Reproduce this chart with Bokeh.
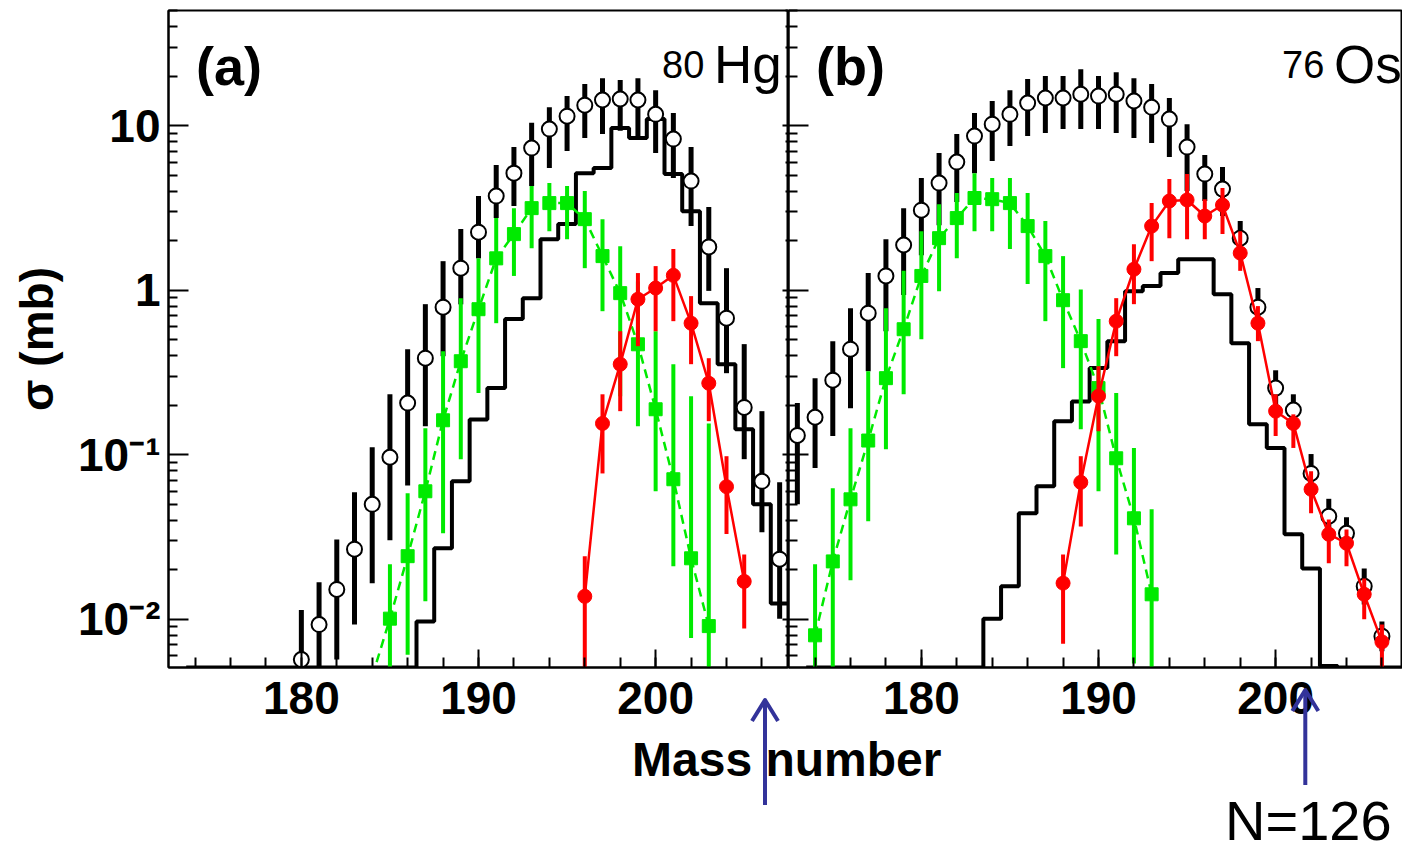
from bokeh.plotting import figure
from bokeh.layouts import row, column
from bokeh.models import (Range1d, FixedTicker, SingleIntervalTicker, LogAxis,
                          Label, Div, CustomJSTickFormatter)
from bokeh.embed import file_html
from bokeh.resources import INLINE

# ---------------- data ----------------
# Panel (a): 80Hg
A_open_a = list(range(180, 208))
open_a = [0.0057, 0.0093, 0.0152, 0.0267, 0.050, 0.0966, 0.206, 0.386, 0.788, 1.36,
          2.25, 3.73, 5.14, 7.30, 9.52, 11.4, 13.3, 14.3, 14.5, 14.3,
          11.7, 8.28, 4.60, 1.83, 0.676, 0.194, 0.069, 0.0232]
open_a_hi = [0.0114, 0.0168, 0.0306, 0.0592, 0.111, 0.233, 0.438, 0.822, 1.50, 2.35,
             3.73, 5.75, 7.40, 10.4, 12.9, 15.1, 17.9, 19.4, 18.9, 19.4,
             16.4, 11.9, 7.4, 3.20, 1.36, 0.47, 0.184, 0.068]
open_a_lo = [0, 0, 0.0057, 0.0093, 0.0166, 0.0302, 0.065, 0.149, 0.397, 0.82,
             1.56, 2.74, 3.24, 4.29, 5.52, 7.0, 8.4, 8.9, 9.3, 8.6,
             6.8, 4.8, 2.45, 0.99, 0.313, 0.094, 0.0338, 0.0101]

A_hist_a = list(range(174, 208))
hist_a = [0] * 13 + [0.0097, 0.027, 0.069, 0.164, 0.254, 0.667, 0.894, 2.04, 2.52, 5.14,
                     5.52, 9.66, 8.4, 10.95, 5.07, 3.02, 0.834, 0.355, 0.143, 0.050, 0.0125]

A_green_a = list(range(184, 204))
green_a = [0.0045, 0.0101, 0.0242, 0.060, 0.162, 0.370, 0.766, 1.56, 2.19, 3.15,
           3.38, 3.38, 2.70, 1.61, 0.959, 0.469, 0.189, 0.071, 0.0235, 0.0091]
green_a_hi = [0.0045, 0.0216, 0.0583, 0.145, 0.426, 0.894, 1.56, 2.74, 3.15, 4.29,
              4.47, 4.29, 4.0, 2.70, 1.85, 1.13, 0.563, 0.355, 0.227, 0.155]
green_a_lo = [0, 0, 0.0061, 0.0129, 0.0333, 0.094, 0.237, 0.63, 1.22, 1.80,
              2.28, 2.04, 1.36, 0.745, 0.227, 0.149, 0.060, 0.021, 0.0077, 0]

A_red_a = list(range(196, 206))
red_a = [0.0138, 0.155, 0.355, 0.881, 1.03, 1.23, 0.63, 0.272, 0.064, 0.017]
red_a_hi = [0.0242, 0.233, 0.563, 1.27, 1.40, 1.78, 0.92, 0.386, 0.098, 0.0248]
red_a_lo = [0, 0.077, 0.184, 0.457, 0.563, 0.648, 0.355, 0.16, 0.033, 0.0088]

# Panel (b): 76Os
A_open_b = list(range(173, 207))
open_b = [0.131, 0.169, 0.284, 0.438, 0.725, 1.22, 1.88, 3.06, 4.47, 6.0,
          8.63, 10.2, 11.7, 13.7, 14.7, 14.7, 15.5, 15.1, 15.5, 14.1,
          12.9, 10.95, 7.40, 5.07, 4.11, 2.07, 0.788, 0.254, 0.187, 0.077,
          0.0423, 0.0333, 0.0159, 0.0079]
open_b_hi = [0.206, 0.292, 0.490, 0.777, 1.27, 2.04, 3.15, 4.80, 6.80, 8.88,
             11.9, 14.1, 16.4, 19.2, 20.0, 20.0, 22.0, 20.0, 21.1, 19.4,
             17.9, 14.7, 10.2, 6.62, 5.6, 2.63, 1.03, 0.326, 0.233, 0.101,
             0.054, 0.0417, 0.0204, 0.0097]
open_b_lo = [0.050, 0.083, 0.130, 0.192, 0.322, 0.563, 0.933, 1.63, 2.48, 3.43,
             5.14, 6.08, 7.5, 8.63, 9.0, 9.52, 9.52, 9.52, 9.0, 8.4,
             7.83, 6.44, 4.0, 3.48, 2.82, 1.54, 0.588, 0.197, 0.149, 0.059,
             0.0329, 0.0267, 0.0123, 0.0064]

A_hist_b = list(range(174, 208))
hist_b = [0] * 10 + [0.0101, 0.0159, 0.0441, 0.0644, 0.160, 0.211, 0.336, 0.490, 0.986, 1.06,
                     1.27, 1.54, 1.54, 0.946, 0.476, 0.153, 0.110, 0.0329, 0.0204, 0.0052] + [0] * 4

A_green_b = list(range(174, 194))
green_b = [0.0080, 0.0225, 0.0536, 0.122, 0.292, 0.579, 1.22, 2.07, 2.74, 3.63,
           3.57, 3.38, 2.45, 1.61, 0.869, 0.490, 0.254, 0.0952, 0.0411, 0.0142]
green_b_hi = [0.0216, 0.0626, 0.145, 0.322, 0.777, 1.31, 2.28, 3.33, 3.89, 5.14,
              4.80, 4.80, 3.89, 2.63, 1.61, 1.01, 0.667, 0.237, 0.110, 0.0466]
green_b_lo = [0, 0, 0.0173, 0.0394, 0.108, 0.233, 0.504, 0.986, 1.56, 2.28,
              2.28, 1.78, 1.09, 0.648, 0.336, 0.143, 0.060, 0.0248, 0.0054, 0]

A_red_b = list(range(188, 207))
red_b = [0.0166, 0.068, 0.227, 0.648, 1.34, 2.45, 3.48, 3.53, 2.82, 3.29,
         1.68, 0.630, 0.184, 0.155, 0.0617, 0.0329, 0.029, 0.0142, 0.0073]
red_b_hi = [0.0248, 0.098, 0.345, 0.894, 1.90, 3.38, 4.73, 5.07, 3.57, 4.17,
            2.28, 0.80, 0.233, 0.176, 0.0794, 0.0405, 0.0352, 0.0177, 0.0093]
red_b_lo = [0.0071, 0.0367, 0.139, 0.397, 0.822, 1.50, 2.07, 2.04, 2.04, 2.19,
            1.31, 0.490, 0.130, 0.110, 0.0441, 0.0219, 0.021, 0.010, 0]

# tick labels
y_major = [0.01, 0.1, 1, 10]
y_labels = {0.01: "10\u207b\u00b2", 0.1: "10\u207b\u00b9", 1: "1", 10: "10"}
y_minor = [0.006, 0.007, 0.008, 0.009,
           0.02, 0.03, 0.04, 0.05, 0.06, 0.07, 0.08, 0.09,
           0.2, 0.3, 0.4, 0.5, 0.6, 0.7, 0.8, 0.9,
           2, 3, 4, 5, 6, 7, 8, 9, 20, 30, 40, 50]
N126_a = 206.2   # arrow positions (mass number at N = 126)
N126_b = 201.7

# ---------------- style / geometry ----------------
YMIN, YMAX = 0.0051, 50.0
XMIN = 172.5
FONT = "Liberation Sans"
BLACK = "black"
GREEN = "#00ea00"
RED = "#ff0000"
NAVY = "#33339a"
LEFT, TOP, FH = 168, 10, 657
FW_A, FW_B = 620, 614
PX_PER_A = FW_A / 35.0


def clip_lo(vals):
    return [v if v > 0 else 1e-4 for v in vals]


def blank_labels(ax):
    ax.formatter = CustomJSTickFormatter(code="return '';")
    ax.major_label_text_font_size = "1px"
    ax.major_label_text_alpha = 0
    ax.major_label_standoff = 0


def make_panel(fw, left_border, show_labels):
    xend = XMIN + fw / PX_PER_A
    p = figure(frame_width=fw, frame_height=FH,
               x_range=Range1d(XMIN, xend), y_range=Range1d(YMIN, YMAX),
               y_axis_type="log", output_backend="svg", toolbar_location=None,
               min_border_left=left_border, min_border_right=0,
               min_border_top=TOP, min_border_bottom=854 - TOP - FH)
    p.grid.visible = False
    p.outline_line_color = BLACK
    p.outline_line_width = 2
    p.background_fill_color = "white"
    p.border_fill_color = "white"

    xa = p.xaxis[0]
    xa.ticker = SingleIntervalTicker(interval=10, num_minor_ticks=5)
    xa.major_tick_in = 18
    xa.major_tick_out = 0
    xa.minor_tick_in = 10
    xa.minor_tick_out = 0
    xa.major_tick_line_width = 2
    xa.minor_tick_line_width = 2
    xa.axis_line_width = 2
    xa.major_label_text_font = FONT
    xa.major_label_text_font_style = "bold"
    xa.major_label_text_font_size = "46px"
    xa.major_label_text_color = BLACK
    xa.major_label_standoff = 14

    ya = p.yaxis[0]
    ya.ticker = FixedTicker(ticks=y_major, minor_ticks=y_minor)
    ya.major_tick_in = 20
    ya.major_tick_out = 0
    ya.minor_tick_in = 9
    ya.minor_tick_out = 0
    ya.major_tick_line_width = 2
    ya.minor_tick_line_width = 2
    ya.axis_line_width = 2
    if show_labels:
        ya.major_label_overrides = y_labels
        ya.major_label_text_font = FONT
        ya.major_label_text_font_style = "bold"
        ya.major_label_text_font_size = "46px"
        ya.major_label_text_color = BLACK
        ya.major_label_standoff = 8
        ya.axis_label = "\u03c3 (mb)"
        ya.axis_label_text_font = FONT
        ya.axis_label_text_font_style = "bold"
        ya.axis_label_text_font_size = "46px"
        ya.axis_label_text_color = BLACK
        ya.axis_label_standoff = 12
    else:
        blank_labels(ya)
    return p


def draw(p, A_open, op, op_hi, op_lo, A_hist, hist, A_g, g, g_hi, g_lo, A_r, r, r_hi, r_lo):
    edges = [a - 0.5 for a in A_hist] + [A_hist[-1] + 0.5]
    hv = [v if v > 0 else YMIN for v in hist]
    hv = hv + [hv[-1]]
    p.step(edges, hv, mode="after", line_color=BLACK, line_width=4)

    p.segment(x0=A_open, y0=clip_lo(op_lo), x1=A_open, y1=op_hi, line_color=BLACK, line_width=5)
    p.scatter(A_open, op, marker="circle", size=15, fill_color="white",
              line_color=BLACK, line_width=2)

    p.line(A_g, g, line_color=GREEN, line_width=2.5, line_dash="9 6")
    p.segment(x0=A_g, y0=clip_lo(g_lo), x1=A_g, y1=g_hi, line_color=GREEN, line_width=4)
    p.scatter(A_g, g, marker="square", size=13, fill_color=GREEN, line_color=GREEN)

    p.line(A_r, r, line_color=RED, line_width=2.5)
    p.segment(x0=A_r, y0=clip_lo(r_lo), x1=A_r, y1=r_hi, line_color=RED, line_width=4)
    p.scatter(A_r, r, marker="circle", size=14, fill_color=RED, line_color=RED)


def element_labels(p, tag, mass_no, element):
    p.add_layout(Label(x=174.05, y=23.0, text=tag, text_font=FONT, text_font_style="bold",
                       text_color=BLACK, text_font_size="54px", text_align="left",
                       text_baseline="alphabetic"))
    p.add_layout(Label(x=203.3, y=23.6, text=element, text_font=FONT, text_color=BLACK,
                       text_font_size="53px", text_align="left", text_baseline="alphabetic"))
    p.add_layout(Label(x=202.75, y=23.6, text=mass_no, text_font=FONT, text_color=BLACK,
                       text_font_size="38px", text_align="right", text_baseline="alphabetic"))


# ---------------- panel (a) ----------------
pa = make_panel(FW_A, LEFT, True)
ra = LogAxis(ticker=FixedTicker(ticks=y_major, minor_ticks=y_minor),
             major_tick_in=6, major_tick_out=0, minor_tick_in=3, minor_tick_out=0,
             axis_line_width=2, major_tick_line_width=2, minor_tick_line_width=2)
blank_labels(ra)
pa.add_layout(ra, "right")
draw(pa, A_open_a, open_a, open_a_hi, open_a_lo, A_hist_a, hist_a,
     A_green_a, green_a, green_a_hi, green_a_lo, A_red_a, red_a, red_a_hi, red_a_lo)
element_labels(pa, "(a)", "80", "Hg")

# ---------------- panel (b) ----------------
pb = make_panel(FW_B, 0, False)
draw(pb, A_open_b, open_b, open_b_hi, open_b_lo, A_hist_b, hist_b,
     A_green_b, green_b, green_b_hi, green_b_lo, A_red_b, red_b, red_b_hi, red_b_lo)
element_labels(pb, "(b)", "76", "Os")

# ---------------- shared bottom overlay: axis title, N=126 arrows ----------------
OV_TOP = 680
xa_px = LEFT + (N126_a - XMIN) * PX_PER_A
xb_px = LEFT + FW_A + (N126_b - XMIN) * PX_PER_A


def arrow_svg(x, tip, tail):
    return (f'<line x1="{x:.1f}" y1="{tail}" x2="{x:.1f}" y2="{tip + 2}" '
            f'stroke="{NAVY}" stroke-width="4"/>'
            f'<polyline points="{x - 13:.1f},{tip + 21} {x:.1f},{tip} {x + 13:.1f},{tip + 21}" '
            f'fill="none" stroke="{NAVY}" stroke-width="4" stroke-linejoin="round"/>')


overlay_html = (
    '<div style="position:relative;width:1402px;height:174px;">'
    '<svg style="position:absolute;left:0;top:0;" width="1402" height="174">'
    + arrow_svg(xa_px, 700 - OV_TOP, 805 - OV_TOP)
    + arrow_svg(xb_px, 690 - OV_TOP, 785 - OV_TOP)
    + '</svg>'
    '<span style="position:absolute;left:632px;top:56px;font-family:\'Liberation Sans\',Arial,sans-serif;'
    'font-weight:bold;font-size:48px;line-height:48px;white-space:nowrap;color:black;">Mass number</span>'
    '<span style="position:absolute;left:1225px;top:113px;font-family:\'Liberation Sans\',Arial,sans-serif;'
    'font-weight:normal;font-size:56px;line-height:56px;white-space:nowrap;color:black;">N=126</span>'
    '</div>'
)
overlay = Div(text=overlay_html, width=1402, height=174, margin=(-174, 0, 0, 0))

layout = column(row(pa, pb), overlay)
open("out.html", "w").write(file_html(layout, INLINE))
